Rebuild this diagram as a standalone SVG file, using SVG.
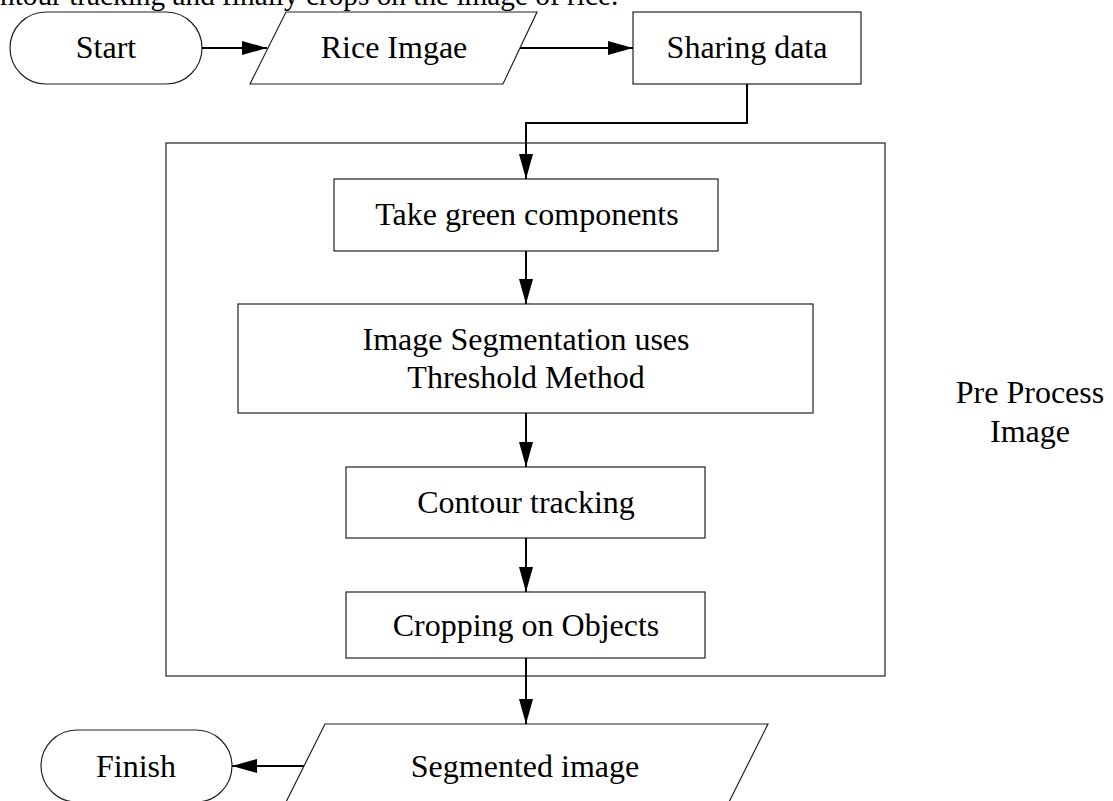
<svg xmlns="http://www.w3.org/2000/svg" width="1113" height="801" viewBox="0 0 1113 801">
<style>
  .shape { fill: #ffffff; stroke: #222222; stroke-width: 1.2; }
  .frame { fill: none; stroke: #222222; stroke-width: 1.2; }
  .conn { fill: none; stroke: #000000; stroke-width: 2; }
  .lbl { font-family: "Liberation Serif", "Times New Roman", serif; font-size: 32px; fill: #000000; text-anchor: middle; }
  .cap { font-family: "Liberation Serif", "Times New Roman", serif; font-size: 29.3px; fill: #000000; }
</style>
<defs>
  <marker id="arrow" markerUnits="userSpaceOnUse" markerWidth="25" markerHeight="14" refX="25" refY="7" orient="auto">
    <path d="M0,0 L25,7 L0,14 z" fill="#000000"/>
  </marker>
</defs>
<rect width="1113" height="801" fill="#ffffff"/>
<text class="cap" x="0" y="5">ntour tracking and finally crops on the image of rice.</text>

<g id="preprocess">
  <rect class="frame" x="166" y="143" width="719" height="533"/>
  <text class="lbl" x="1030" y="403">Pre Process</text>
  <text class="lbl" x="1030" y="442">Image</text>
</g>

<g id="start">
  <rect class="shape" x="10" y="12" width="192" height="72" rx="36" ry="36"/>
  <text class="lbl" x="106" y="58">Start</text>
</g>
<g id="rice-image">
  <polygon class="shape" points="286,12 537,12 503,84 250,84"/>
  <text class="lbl" x="394" y="58">Rice Imgae</text>
</g>
<g id="sharing-data">
  <rect class="shape" x="633" y="12" width="228" height="72"/>
  <text class="lbl" x="747" y="58">Sharing data</text>
</g>
<g id="take-green">
  <rect class="shape" x="334" y="179" width="384" height="72"/>
  <text class="lbl" x="527" y="225">Take green components</text>
</g>
<g id="segmentation">
  <rect class="shape" x="238" y="304" width="575" height="109"/>
  <text class="lbl" x="526" y="350">Image Segmentation uses</text>
  <text class="lbl" x="526" y="388">Threshold Method</text>
</g>
<g id="contour">
  <rect class="shape" x="346" y="467" width="359" height="71"/>
  <text class="lbl" x="526" y="513">Contour tracking</text>
</g>
<g id="cropping">
  <rect class="shape" x="346" y="592" width="359" height="66"/>
  <text class="lbl" x="526" y="636">Cropping on Objects</text>
</g>
<g id="segmented-image">
  <polygon class="shape" points="325,724 768,724 728,804 285,804"/>
  <text class="lbl" x="525" y="777">Segmented image</text>
</g>
<g id="finish">
  <rect class="shape" x="41" y="730" width="191" height="72" rx="36" ry="36"/>
  <text class="lbl" x="136" y="777">Finish</text>
</g>

<g id="connectors">
  <line class="conn" x1="202" y1="48" x2="267" y2="48" marker-end="url(#arrow)"/>
  <line class="conn" x1="520" y1="48" x2="633" y2="48" marker-end="url(#arrow)"/>
  <polyline class="conn" points="747,84 747,123 526,123 526,179" marker-end="url(#arrow)"/>
  <line class="conn" x1="526" y1="251" x2="526" y2="304" marker-end="url(#arrow)"/>
  <line class="conn" x1="526" y1="413" x2="526" y2="467" marker-end="url(#arrow)"/>
  <line class="conn" x1="526" y1="538" x2="526" y2="592" marker-end="url(#arrow)"/>
  <line class="conn" x1="526" y1="658" x2="526" y2="724" marker-end="url(#arrow)"/>
  <line class="conn" x1="304" y1="766" x2="232" y2="766" marker-end="url(#arrow)"/>
</g>
</svg>
